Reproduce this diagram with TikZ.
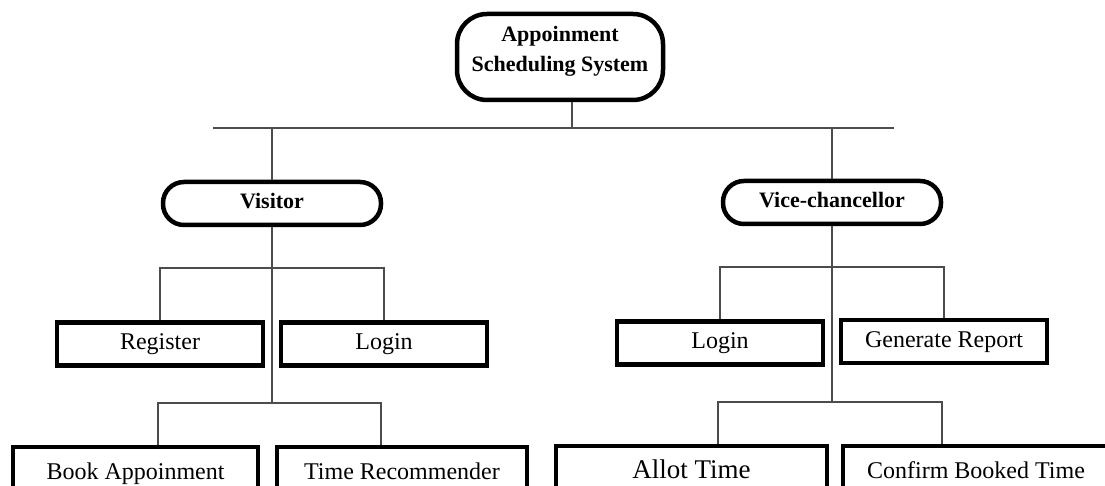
\documentclass[tikz,border=0pt]{standalone}
\usepackage{fontspec}
\setmainfont{Liberation Serif}
\begin{document}
\begin{tikzpicture}[x=1pt,y=-1pt,
  conn/.style={draw=black!70, line width=1.3pt},
  boxnode/.style={draw=black, line width=4.5pt, minimum width=206pt, minimum height=43pt,
    inner sep=0pt, font=\fontsize{24}{28}\selectfont, text height=16pt, text depth=5pt},
  lowbox/.style={boxnode, minimum height=46pt, text height=22pt, text depth=3pt},
  pill/.style={draw=black, line width=4.5pt, rounded corners=21pt, minimum height=43pt,
    minimum width=218pt, inner sep=0pt, font=\bfseries\fontsize{22}{26}\selectfont,
    text height=15pt, text depth=4pt},
  topnode/.style={draw=black, line width=4.5pt, rounded corners=30pt, minimum height=86pt,
    minimum width=206pt, inner sep=0pt, align=center, text depth=16pt,
    font=\bfseries\fontsize{22}{30}\selectfont}
]
\useasboundingbox (0,0) rectangle (1105,486);

% nodes
\node[topnode] (top) at (560,57) {Appoinment\\Scheduling System};
\node[pill] (vis) at (272,203.5) {Visitor};
\node[pill] (vc) at (832,202.5) {Vice-chancellor};

\node[boxnode] (reg) at (160,344) {Register};
\node[boxnode] (vlog) at (384,344) {Login};
\node[boxnode] (clog) at (720,343) {Login};
\node[boxnode] (gen) at (944,341.5) {Generate Report};

\node[lowbox, minimum width=245pt] (book) at (135.5,470) {Book Appoinment};
\node[lowbox, minimum width=250pt] (trec) at (402,470) {Time Recommender};
\node[lowbox, minimum width=271pt, font=\fontsize{27}{30}\selectfont] (allot) at (691.5,469) {Allot Time};
\node[lowbox, minimum width=266pt] (conf) at (976,469) {Confirm Booked Time};

% junction coordinates
\coordinate (busL) at (213,128);
\coordinate (busR) at (894,128);
\coordinate (busC) at (572,128);
\coordinate (v1) at (0,268);
\coordinate (v2) at (0,403);
\coordinate (c1) at (0,267);
\coordinate (c2) at (0,402);
\coordinate (bookx) at (158,0);
\coordinate (trecx) at (381,0);
\coordinate (allotx) at (718,0);
\coordinate (confx) at (942,0);

% top bus
\draw[conn] (top.south -| busC) -- (busC);
\draw[conn] (busL) -- (busR);
\draw[conn] (vis.north |- busL) -- (vis.north);
\draw[conn] (vc.north |- busL) -- (vc.north);

% visitor branches
\draw[conn] (vis.south) -- (vis.south |- v2);
\draw[conn] (reg.north) -- (reg.north |- v1) -- (vlog.north |- v1) -- (vlog.north);
\draw[conn] (book.north -| bookx) -- (bookx |- v2) -- (trecx |- v2) -- (trec.north -| trecx);

% vice-chancellor branches
\draw[conn] (vc.south) -- (vc.south |- c2);
\draw[conn] (clog.north) -- (clog.north |- c1) -- (gen.north |- c1) -- (gen.north);
\draw[conn] (allot.north -| allotx) -- (allotx |- c2) -- (confx |- c2) -- (conf.north -| confx);
\end{tikzpicture}
\end{document}
